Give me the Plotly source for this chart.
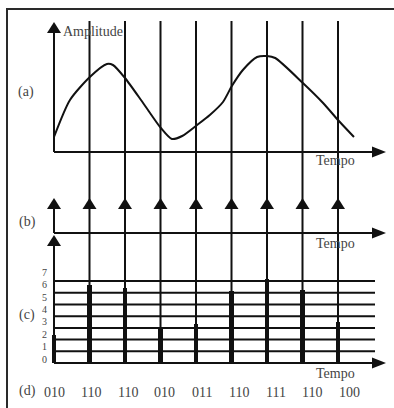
import plotly.graph_objects as go

# ---------------- data ----------------
# (a) analog signal: time (in sample periods) and amplitude
curve_t = [0.00, 0.45, 1.01, 1.49, 1.66, 2.00, 2.51, 3.01, 3.32, 3.61, 4.03,
           4.39, 4.76, 5.01, 5.32, 5.72, 6.00, 6.23, 7.01, 7.58, 8.00, 8.45]
curve_a = [1.5, 5.2, 7.5, 8.8, 8.7, 7.4, 4.9, 2.4, 1.3, 1.6, 2.7,
           3.7, 5.0, 6.6, 8.2, 9.5, 9.6, 9.4, 6.9, 4.9, 3.2, 1.5]
# sample instants
sample_t = [0, 1, 2, 3, 4, 5, 6, 7, 8]
# (b) impulse train (unit impulses)
impulse_v = [1, 1, 1, 1, 1, 1, 1, 1, 1]
# (c) sampled / quantised amplitudes (in quantisation levels)
sample_v = [2.4, 6.7, 6.4, 3.0, 3.35, 6.15, 7.2, 6.2, 3.5]
levels = [0, 1, 2, 3, 4, 5, 6, 7]
level_labels = ["0", "1", "2", "3", "4", "5", "6", "7"]
# (d) binary codes
codes = ["010", "110", "110", "010", "011", "110", "111", "110", "100"]

# ---------------- geometry (pixel layout) ----------------
W, H = 394, 408
X0, DX = 54, 35.5            # pixel of t=0, pixels per sample
YA0, SA = 152, 10.0           # (a) axis baseline, px per amplitude unit
YB0, SB = 233, 35.0           # (b) baseline, px per impulse unit
YC0, SC = 363, 11.7           # (c) baseline, px per level

def PX(px): return px / W
def PY(py): return 1 - py / H

INK = "#111111"
TXT = "#444444"
FONT = "Liberation Serif, Times New Roman, serif"

fig = go.Figure()

# (a) curve
fig.add_trace(go.Scatter(x=curve_t, y=curve_a, mode="lines", yaxis="y",
                         line=dict(color=INK, width=2, shape="spline", smoothing=0.7),
                         hoverinfo="skip", showlegend=False))
# (c) quantised samples as thick bars
fig.add_trace(go.Bar(x=sample_t, y=sample_v, yaxis="y3", width=0.14,
                     marker=dict(color=INK, line=dict(width=0)),
                     hoverinfo="skip", showlegend=False))

shapes = []
def line_px(x0, y0, x1, y1, w=2):
    shapes.append(dict(type="line", xref="paper", yref="paper",
                       x0=PX(x0), y0=PY(y0), x1=PX(x1), y1=PY(y1),
                       line=dict(color=INK, width=w)))

def tri_up(cx, apex, w=14, h=11):
    p = "M {:.4f},{:.4f} L {:.4f},{:.4f} L {:.4f},{:.4f} Z".format(
        PX(cx), PY(apex), PX(cx - w / 2), PY(apex + h), PX(cx + w / 2), PY(apex + h))
    shapes.append(dict(type="path", xref="paper", yref="paper", path=p,
                       fillcolor=INK, line=dict(color=INK, width=0)))

def tri_right(tip, cy, l=14, h=11):
    p = "M {:.4f},{:.4f} L {:.4f},{:.4f} L {:.4f},{:.4f} Z".format(
        PX(tip), PY(cy), PX(tip - l), PY(cy - h / 2), PX(tip - l), PY(cy + h / 2))
    shapes.append(dict(type="path", xref="paper", yref="paper", path=p,
                       fillcolor=INK, line=dict(color=INK, width=0)))

# frame (only top and left edges visible)
shapes.append(dict(type="rect", xref="paper", yref="paper",
                   x0=PX(7), y0=PY(9), x1=PX(420), y1=PY(430),
                   line=dict(color="#2a2a2a", width=2)))

# sample lines (through all panels)
for t in sample_t[1:]:
    shapes.append(dict(type="line", xref="x", yref="paper", x0=t, x1=t,
                       y0=PY(21), y1=PY(YC0), line=dict(color=INK, width=2)))

# quantisation level lines in (c)
for L in levels[1:]:
    shapes.append(dict(type="line", xref="paper", yref="y3", x0=PX(X0), x1=PX(375),
                       y0=L, y1=L, line=dict(color=INK, width=2)))

# axes of (a)
line_px(X0, 33, X0, YA0)
tri_up(X0, 22)
line_px(X0, YA0, 375, YA0)
tri_right(386, YA0)
# axes of (b)
line_px(X0, 209, X0, YB0)
line_px(X0, YB0, 375, YB0)
tri_right(386, YB0)
# axes of (c)
line_px(X0, 245, X0, YC0)
tri_up(X0, 235)
line_px(X0, YC0, 375, YC0)
tri_right(386, YC0)

# (b) impulse arrow heads at each sample instant
for t, v in zip(sample_t, impulse_v):
    tri_up(X0 + DX * t, YB0 - SB * v)

ann = []
def text(x, y, s, size=14, xanchor="center"):
    ann.append(dict(x=PX(x), y=PY(y), xref="paper", yref="paper", text=s,
                    showarrow=False, xanchor=xanchor, yanchor="middle",
                    font=dict(family=FONT, size=size, color=TXT)))

text(61, 32, "Amplitude", xanchor="left")
text(26, 92, "(a)")
text(27, 222, "(b)")
text(27, 315, "(c)")
text(27, 391, "(d)")
text(314, 161, "Tempo", xanchor="left")
text(314, 243, "Tempo", xanchor="left")
text(314, 373, "Tempo", xanchor="left")

# level labels (c)
for L, s in zip(levels, level_labels):
    ann.append(dict(x=PX(49), y=L * 1.06 + 0.34, xref="paper", yref="y3", text=s,
                    showarrow=False, xanchor="right", yanchor="middle",
                    font=dict(family=FONT, size=10, color=TXT)))
# codes (d)
for t, c in zip(sample_t, codes):
    ann.append(dict(x=t * 1.04, y=PY(392), xref="x", yref="paper", text=c,
                    showarrow=False, xanchor="center", yanchor="middle",
                    font=dict(family=FONT, size=14, color=TXT)))

hidden = dict(visible=False, showgrid=False, zeroline=False, fixedrange=True)
fig.update_layout(
    width=W, height=H, margin=dict(l=0, r=0, t=0, b=0),
    paper_bgcolor="white", plot_bgcolor="white",
    showlegend=False, bargap=0,
    xaxis=dict(range=[-X0 / DX, (W - X0) / DX], **hidden),
    yaxis=dict(range=[(YA0 - H) / SA, YA0 / SA], **hidden),
    yaxis2=dict(range=[(YB0 - H) / SB, YB0 / SB], overlaying="y", **hidden),
    yaxis3=dict(range=[(YC0 - H) / SC, YC0 / SC], overlaying="y", **hidden),
    shapes=shapes, annotations=ann,
)
fig.write_html("out.html")
